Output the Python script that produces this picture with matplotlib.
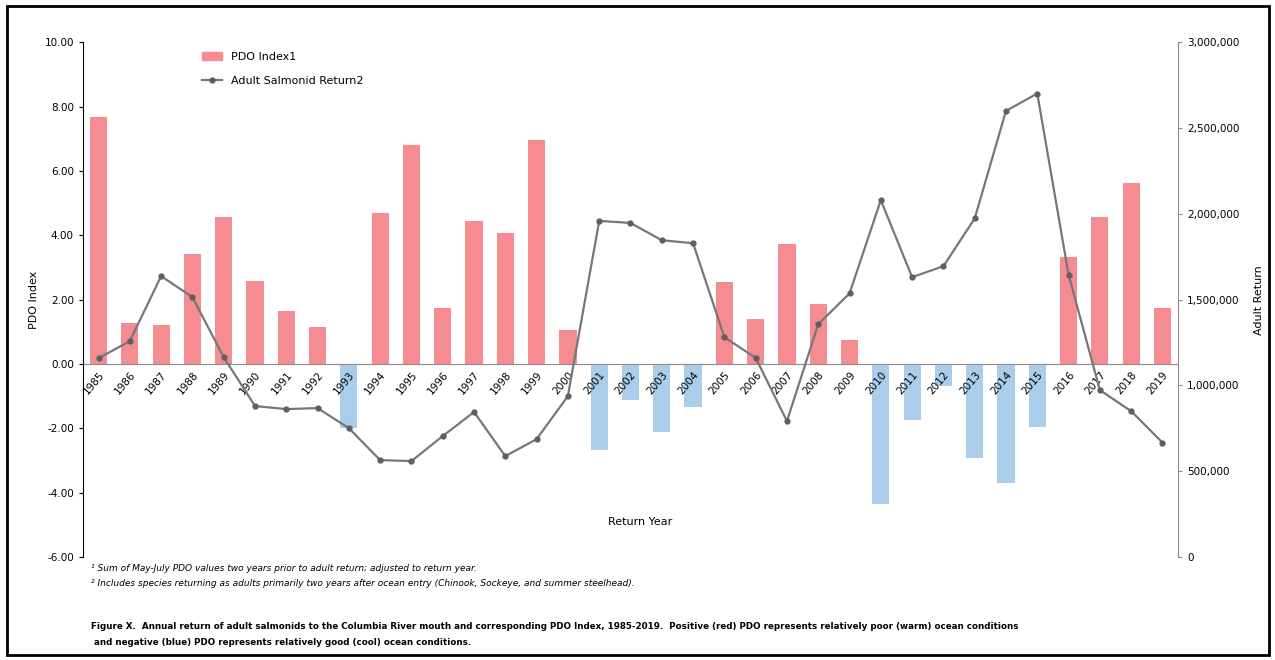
import matplotlib.pyplot as plt
import numpy as np
from matplotlib.patches import Rectangle
from matplotlib.ticker import FuncFormatter

years = [str(y) for y in range(1985, 2020)]
pdo = [7.67, 1.27, 1.21, 3.42, 4.57, 2.58, 1.65, 1.15, -2.0, 4.69,
       6.80, 1.74, 4.44, 4.07, 6.96, 1.06, -2.67, -1.12, -2.11, -1.33,
       2.55, 1.40, 3.73, 1.86, 0.75, -4.35, -1.74, -0.68, -2.92, -3.70,
       -1.97, 3.31, 4.58, 5.64, 1.75]
salmon = [1159000, 1258000, 1637000, 1515000, 1165000, 880000, 862000, 868000,
          751000, 565000, 559000, 705000, 845000, 588000, 687000, 938000,
          1959000, 1947000, 1846000, 1829000, 1281000, 1161000, 792000, 1357000,
          1536000, 2080000, 1631000, 1695000, 1973000, 2600000, 2701000,
          1645000, 973000, 850000, 667000]

red = '#F58C92'
blue = '#A9CDEA'
colors = [red if v >= 0 else blue for v in pdo]

fig = plt.figure(figsize=(12.75, 6.6), dpi=100)
ax = fig.add_axes([0.065, 0.156, 0.859, 0.780])
x = np.arange(len(years))

ax.bar(x, pdo, width=0.55, color=colors, label='PDO Index1', zorder=1)
ax.set_axisbelow(False)  # year labels sit on top of the blue bars
ax.set_xlim(-0.5, len(years) - 0.5)
ax.set_ylim(-6, 10)
ax.set_yticks(np.arange(-6, 10.1, 2))
ax.yaxis.set_major_formatter(FuncFormatter(lambda v, p: '%.2f' % v))
ax.tick_params(axis='y', labelsize=7.5, length=3, color='black')
ax.set_ylabel('PDO Index', fontsize=8)

ax.spines['top'].set_visible(False)
ax.spines['right'].set_visible(False)
ax.spines['bottom'].set_position(('data', 0))
ax.spines['bottom'].set_color('#8c8c8c')
ax.spines['left'].set_color('black')
ax.set_xticks(x)
ax.set_xticklabels(years, rotation=50, ha='right', rotation_mode='anchor', fontsize=7.5)
ax.tick_params(axis='x', length=0, pad=4)

ax2 = ax.twinx()
ax2.plot(x, salmon, color='#777777', lw=1.6, marker='o', markersize=3.5,
         markerfacecolor='#5f5f5f', markeredgecolor='#5f5f5f', label='Adult Salmonid Return2')
ax2.set_ylim(0, 3000000)
ax2.set_yticks(np.arange(0, 3000001, 500000))
ax2.yaxis.set_major_formatter(FuncFormatter(lambda v, p: '{:,.0f}'.format(v)))
ax2.tick_params(axis='y', labelsize=7.5, length=3, color='#8c8c8c')
ax2.set_ylabel('Adult Return', fontsize=8, labelpad=10)
for s in ['top', 'left', 'bottom']:
    ax2.spines[s].set_visible(False)
ax2.spines['right'].set_color('#8c8c8c')

fig.text(0.502, 0.209, 'Return Year', fontsize=8, ha='center', va='center')

h1, l1 = ax.get_legend_handles_labels()
h2, l2 = ax2.get_legend_handles_labels()
leg = ax.legend([h1[0], h2[0]], [l1[0], l2[0]], loc='upper left',
                bbox_to_anchor=(0.1, 1.0), frameon=False, fontsize=8,
                handlelength=1.8, labelspacing=1.2)
leg.legend_handles[0].set_color(red)

fig.text(0.071, 0.139, '\u00b9 Sum of May-July PDO values two years prior to adult return; adjusted to return year.',
         fontsize=6.5, style='italic', va='center')
fig.text(0.071, 0.116, '\u00b2 Includes species returning as adults primarily two years after ocean entry (Chinook, Sockeye, and summer steelhead).',
         fontsize=6.5, style='italic', va='center')
fig.text(0.071, 0.051, 'Figure X.  Annual return of adult salmonids to the Columbia River mouth and corresponding PDO Index, 1985-2019.  Positive (red) PDO represents relatively poor (warm) ocean conditions',
         fontsize=6.35, fontweight='bold', va='center')
fig.text(0.071, 0.027, ' and negative (blue) PDO represents relatively good (cool) ocean conditions.',
         fontsize=6.35, fontweight='bold', va='center')

fig.patches.append(Rectangle((0.0055, 0.007), 0.99, 0.984, transform=fig.transFigure,
                             fill=False, lw=2, ec='black'))

fig.savefig('out.png', dpi=100)
